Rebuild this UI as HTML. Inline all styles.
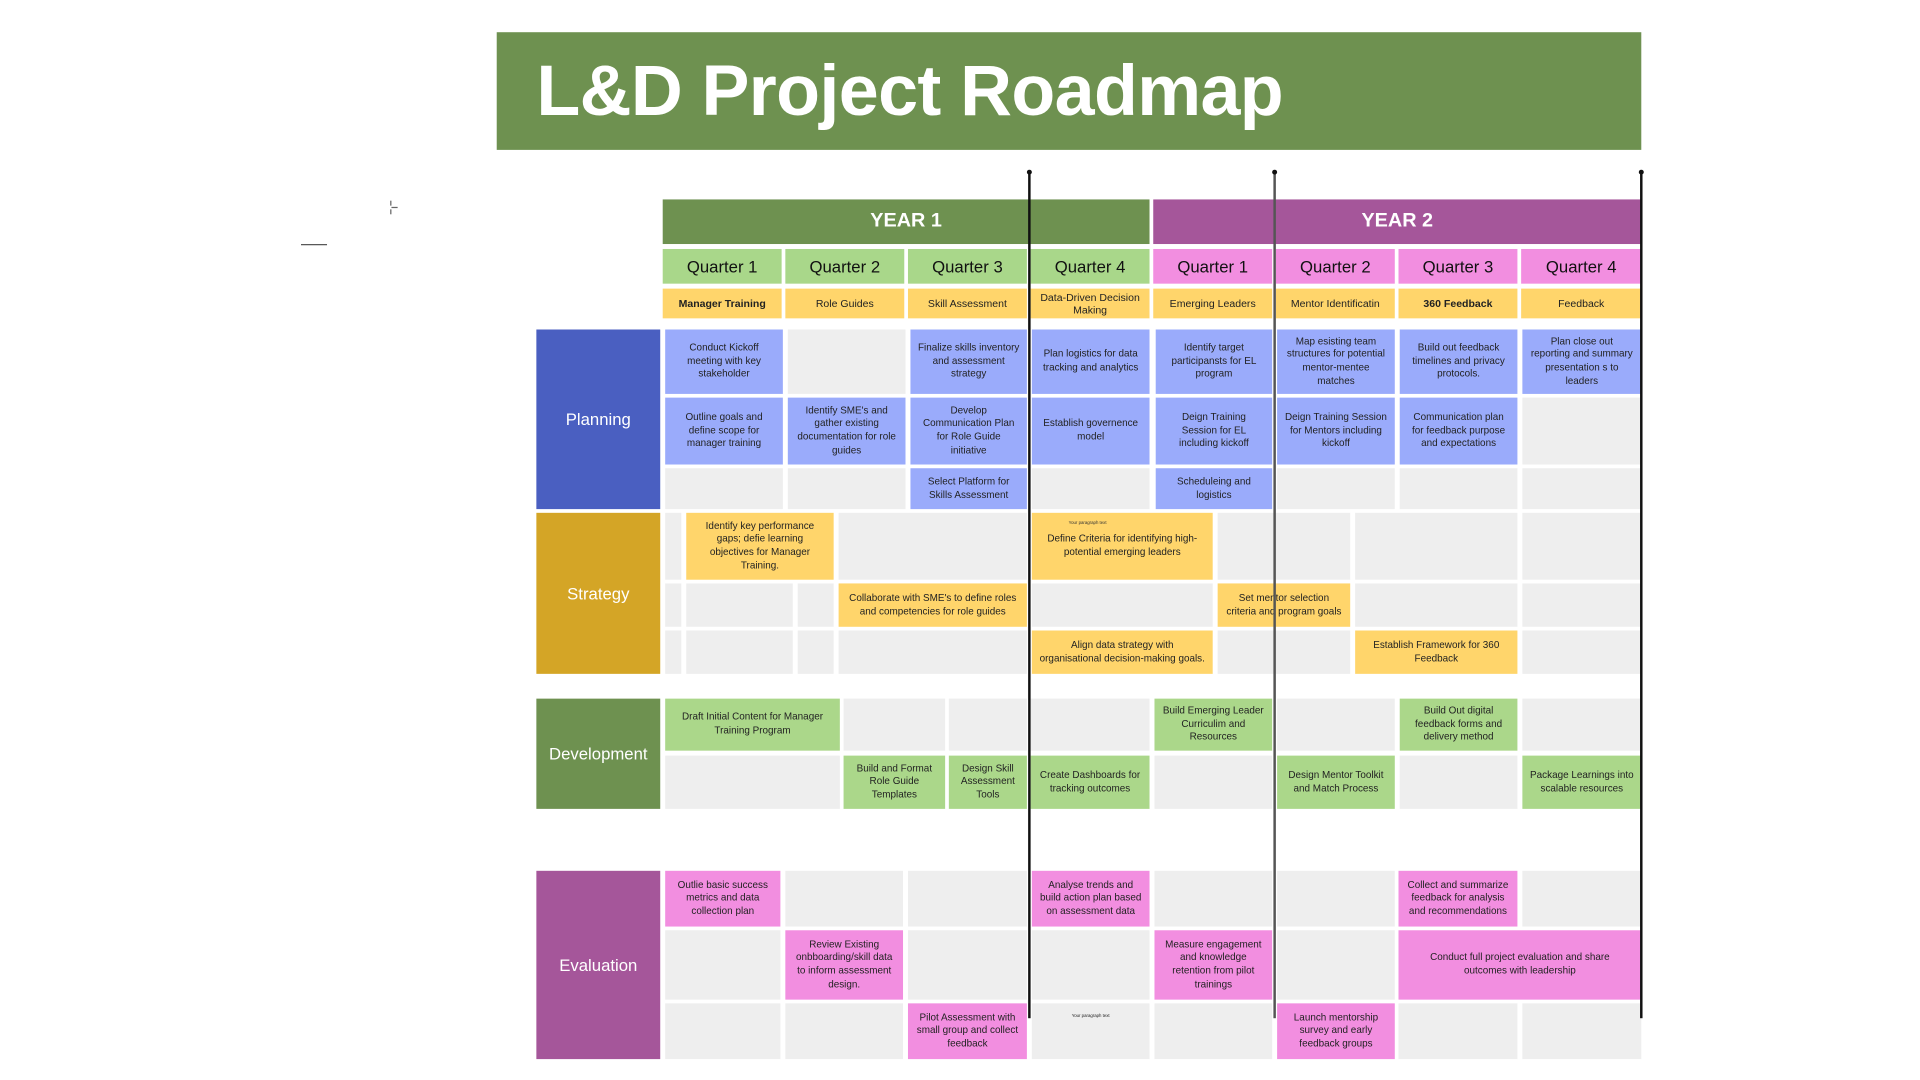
<!DOCTYPE html>
<html><head><meta charset="utf-8"><style>
html,body{margin:0;padding:0;background:#fff;width:1920px;height:1080px;overflow:hidden}
#s{position:absolute;left:0;top:0;width:1550px;height:872px;transform:scale(1.23871);transform-origin:0 0;font-family:"Liberation Sans",sans-serif}
#s div{position:absolute;box-sizing:border-box;display:flex;align-items:center;justify-content:center;text-align:center}
.c{font-size:8px;line-height:10.6px;color:#222;padding:0 6px}
.e{background:#eeeeee}
.b{background:#9aabfb}
.y{background:#ffd56b}
.g{background:#abd78a}
.p{background:#f28ee0}
.q{font-size:13.5px;color:#111}
.t{font-size:8.5px;color:#222}
.L{color:#fff;font-size:13.5px}
.v{width:1.5px;background:#111}
.d{width:4px;height:4px;border-radius:50%;background:#111}
</style></head><body><div id="s">
<div style="left:401px;top:26px;width:924px;height:95px;background:#6e9150;justify-content:flex-start;padding-left:32px;color:#fff;font-weight:bold;font-size:58px;letter-spacing:-0.5px">L&amp;D Project Roadmap</div>
<div style="left:243px;top:197px;width:21px;height:1px;background:#555"></div>
<div style="left:315px;top:162px;width:1px;height:4px;background:#666"></div>
<div style="left:316px;top:167px;width:5px;height:1px;background:#666"></div>
<div style="left:315px;top:169px;width:1px;height:4px;background:#666"></div>

<div style="left:535px;top:161px;width:393px;height:36px;background:#6e9150;color:#fff;font-size:16px;font-weight:bold">YEAR 1</div>
<div style="left:931px;top:161px;width:394px;height:36px;background:#a5569a;color:#fff;font-size:16px;font-weight:bold">YEAR 2</div>

<div class="q" style="left:535px;top:201px;width:96px;height:28px;background:#a9d78a">Quarter 1</div>
<div class="q" style="left:634px;top:201px;width:96px;height:28px;background:#a9d78a">Quarter 2</div>
<div class="q" style="left:733px;top:201px;width:96px;height:28px;background:#a9d78a">Quarter 3</div>
<div class="q" style="left:832px;top:201px;width:96px;height:28px;background:#a9d78a">Quarter 4</div>
<div class="q" style="left:931px;top:201px;width:96px;height:28px;background:#f28ee0">Quarter 1</div>
<div class="q" style="left:1030px;top:201px;width:96px;height:28px;background:#f28ee0">Quarter 2</div>
<div class="q" style="left:1129px;top:201px;width:96px;height:28px;background:#f28ee0">Quarter 3</div>
<div class="q" style="left:1228px;top:201px;width:97px;height:28px;background:#f28ee0">Quarter 4</div>

<div class="t y" style="left:535px;top:233px;width:96px;height:24px;font-weight:bold">Manager Training</div>
<div class="t y" style="left:634px;top:233px;width:96px;height:24px">Role Guides</div>
<div class="t y" style="left:733px;top:233px;width:96px;height:24px">Skill Assessment</div>
<div class="t y" style="left:832px;top:233px;width:96px;height:24px;line-height:10px">Data-Driven Decision Making</div>
<div class="t y" style="left:931px;top:233px;width:96px;height:24px">Emerging Leaders</div>
<div class="t y" style="left:1030px;top:233px;width:96px;height:24px">Mentor Identificatin</div>
<div class="t y" style="left:1129px;top:233px;width:96px;height:24px;font-weight:bold">360 Feedback</div>
<div class="t y" style="left:1228px;top:233px;width:97px;height:24px">Feedback</div>

<!-- Planning -->
<div class="L" style="left:433px;top:266px;width:100px;height:145px;background:#4a5fc1">Planning</div>
<div class="c b" style="left:537px;top:266px;width:95px;height:52px">Conduct Kickoff meeting with key stakeholder</div>
<div class="c e" style="left:636px;top:266px;width:95px;height:52px"></div>
<div class="c b" style="left:735px;top:266px;width:94px;height:52px">Finalize skills inventory and assessment strategy</div>
<div class="c b" style="left:833px;top:266px;width:95px;height:52px">Plan logistics for data tracking and analytics</div>
<div class="c b" style="left:933px;top:266px;width:94px;height:52px">Identify target participansts for EL program</div>
<div class="c b" style="left:1031px;top:266px;width:95px;height:52px">Map esisting team structures for potential mentor-mentee matches</div>
<div class="c b" style="left:1130px;top:266px;width:95px;height:52px">Build out feedback timelines and privacy protocols.</div>
<div class="c b" style="left:1229px;top:266px;width:96px;height:52px">Plan close out reporting and summary presentation s to leaders</div>

<div class="c b" style="left:537px;top:321px;width:95px;height:54px">Outline goals and define scope for manager training</div>
<div class="c b" style="left:636px;top:321px;width:95px;height:54px">Identify SME's and gather existing documentation for role guides</div>
<div class="c b" style="left:735px;top:321px;width:94px;height:54px">Develop Communication Plan for Role Guide initiative</div>
<div class="c b" style="left:833px;top:321px;width:95px;height:54px">Establish governence model</div>
<div class="c b" style="left:933px;top:321px;width:94px;height:54px">Deign Training Session for EL including kickoff</div>
<div class="c b" style="left:1031px;top:321px;width:95px;height:54px">Deign Training Session for Mentors including kickoff</div>
<div class="c b" style="left:1130px;top:321px;width:95px;height:54px">Communication plan for feedback purpose and expectations</div>
<div class="c e" style="left:1229px;top:321px;width:96px;height:54px"></div>

<div class="c e" style="left:537px;top:378px;width:95px;height:33px"></div>
<div class="c e" style="left:636px;top:378px;width:95px;height:33px"></div>
<div class="c b" style="left:735px;top:378px;width:94px;height:33px">Select Platform for Skills Assessment</div>
<div class="c e" style="left:833px;top:378px;width:95px;height:33px"></div>
<div class="c b" style="left:933px;top:378px;width:94px;height:33px">Scheduleing and logistics</div>
<div class="c e" style="left:1031px;top:378px;width:95px;height:33px"></div>
<div class="c e" style="left:1130px;top:378px;width:95px;height:33px"></div>
<div class="c e" style="left:1229px;top:378px;width:96px;height:33px"></div>

<!-- Strategy -->
<div class="L" style="left:433px;top:414px;width:100px;height:130px;background:#d4a526">Strategy</div>
<div class="c e" style="left:537px;top:414px;width:13px;height:54px"></div>
<div class="c y" style="left:554px;top:414px;width:119px;height:54px">Identify key performance gaps; defie learning objectives for Manager Training.</div>
<div class="c e" style="left:677px;top:414px;width:152px;height:54px"></div>
<div class="c y" style="left:833px;top:414px;width:146px;height:54px">Define Criteria for identifying high-potential emerging leaders</div>
<div style="left:833px;top:419px;width:90px;height:6px;font-size:3.5px;color:#333">Your paragraph text</div>
<div class="c e" style="left:983px;top:414px;width:107px;height:54px"></div>
<div class="c e" style="left:1094px;top:414px;width:131px;height:54px"></div>
<div class="c e" style="left:1229px;top:414px;width:96px;height:54px"></div>

<div class="c e" style="left:537px;top:471px;width:13px;height:35px"></div>
<div class="c e" style="left:554px;top:471px;width:86px;height:35px"></div>
<div class="c e" style="left:644px;top:471px;width:29px;height:35px"></div>
<div class="c y" style="left:677px;top:471px;width:152px;height:35px">Collaborate with SME's to define roles and competencies for role guides</div>
<div class="c e" style="left:833px;top:471px;width:146px;height:35px"></div>
<div class="c y" style="left:983px;top:471px;width:107px;height:35px">Set mentor selection criteria and program goals</div>
<div class="c e" style="left:1094px;top:471px;width:131px;height:35px"></div>
<div class="c e" style="left:1229px;top:471px;width:96px;height:35px"></div>

<div class="c e" style="left:537px;top:509px;width:13px;height:35px"></div>
<div class="c e" style="left:554px;top:509px;width:86px;height:35px"></div>
<div class="c e" style="left:644px;top:509px;width:29px;height:35px"></div>
<div class="c e" style="left:677px;top:509px;width:152px;height:35px"></div>
<div class="c y" style="left:833px;top:509px;width:146px;height:35px">Align data strategy with organisational decision-making goals.</div>
<div class="c e" style="left:983px;top:509px;width:107px;height:35px"></div>
<div class="c y" style="left:1094px;top:509px;width:131px;height:35px">Establish Framework for 360 Feedback</div>
<div class="c e" style="left:1229px;top:509px;width:96px;height:35px"></div>

<!-- Development -->
<div class="L" style="left:433px;top:564px;width:100px;height:89px;background:#6e9150">Development</div>
<div class="c g" style="left:537px;top:564px;width:141px;height:42px">Draft Initial Content for Manager Training Program</div>
<div class="c e" style="left:681px;top:564px;width:82px;height:42px"></div>
<div class="c e" style="left:766px;top:564px;width:63px;height:42px"></div>
<div class="c e" style="left:832px;top:564px;width:96px;height:42px"></div>
<div class="c g" style="left:932px;top:564px;width:95px;height:42px">Build Emerging Leader Curriculim and Resources</div>
<div class="c e" style="left:1031px;top:564px;width:95px;height:42px"></div>
<div class="c g" style="left:1130px;top:564px;width:95px;height:42px">Build Out digital feedback forms and delivery method</div>
<div class="c e" style="left:1229px;top:564px;width:96px;height:42px"></div>

<div class="c e" style="left:537px;top:610px;width:141px;height:43px"></div>
<div class="c g" style="left:681px;top:610px;width:82px;height:43px">Build and Format Role Guide Templates</div>
<div class="c g" style="left:766px;top:610px;width:63px;height:43px">Design Skill Assessment Tools</div>
<div class="c g" style="left:832px;top:610px;width:96px;height:43px">Create Dashboards for tracking outcomes</div>
<div class="c e" style="left:932px;top:610px;width:95px;height:43px"></div>
<div class="c g" style="left:1031px;top:610px;width:95px;height:43px">Design Mentor Toolkit and Match Process</div>
<div class="c e" style="left:1130px;top:610px;width:95px;height:43px"></div>
<div class="c g" style="left:1229px;top:610px;width:96px;height:43px">Package Learnings into scalable resources</div>

<!-- Evaluation -->
<div class="L" style="left:433px;top:703px;width:100px;height:152px;background:#a5569a">Evaluation</div>
<div class="c p" style="left:537px;top:703px;width:93px;height:45px">Outlie basic success metrics and data collection plan</div>
<div class="c e" style="left:634px;top:703px;width:95px;height:45px"></div>
<div class="c e" style="left:733px;top:703px;width:96px;height:45px"></div>
<div class="c p" style="left:833px;top:703px;width:95px;height:45px">Analyse trends and build action plan based on assessment data</div>
<div class="c e" style="left:932px;top:703px;width:95px;height:45px"></div>
<div class="c e" style="left:1031px;top:703px;width:95px;height:45px"></div>
<div class="c p" style="left:1129px;top:703px;width:96px;height:45px">Collect and summarize feedback for analysis and recommendations</div>
<div class="c e" style="left:1229px;top:703px;width:96px;height:45px"></div>

<div class="c e" style="left:537px;top:751px;width:93px;height:56px"></div>
<div class="c p" style="left:634px;top:751px;width:95px;height:56px">Review Existing onbboarding/skill data to inform assessment design.</div>
<div class="c e" style="left:733px;top:751px;width:96px;height:56px"></div>
<div class="c e" style="left:833px;top:751px;width:95px;height:56px"></div>
<div class="c p" style="left:932px;top:751px;width:95px;height:56px">Measure engagement and knowledge retention from pilot trainings</div>
<div class="c e" style="left:1031px;top:751px;width:95px;height:56px"></div>
<div class="c p" style="left:1129px;top:751px;width:196px;height:56px;padding:0 24px">Conduct full project evaluation and share outcomes with leadership</div>

<div class="c e" style="left:537px;top:810px;width:93px;height:45px"></div>
<div class="c e" style="left:634px;top:810px;width:95px;height:45px"></div>
<div class="c p" style="left:733px;top:810px;width:96px;height:45px">Pilot Assessment with small group and collect feedback</div>
<div class="c e" style="left:833px;top:810px;width:95px;height:45px;align-items:flex-start;padding-top:8px;font-size:3.5px;line-height:4px">Your paragraph text</div>
<div class="c e" style="left:932px;top:810px;width:95px;height:45px"></div>
<div class="c p" style="left:1031px;top:810px;width:95px;height:45px">Launch mentorship survey and early feedback groups</div>
<div class="c e" style="left:1129px;top:810px;width:96px;height:45px"></div>
<div class="c e" style="left:1229px;top:810px;width:96px;height:45px"></div>

<!-- vertical markers -->
<div class="v" style="left:830px;top:139px;height:683px"></div>
<div class="v" style="left:1028px;top:139px;height:683px;background:#555"></div>
<div class="v" style="left:1324px;top:139px;height:683px"></div>
<div class="d" style="left:829px;top:137px"></div>
<div class="d" style="left:1027px;top:137px"></div>
<div class="d" style="left:1323px;top:137px"></div>
</div></body></html>
